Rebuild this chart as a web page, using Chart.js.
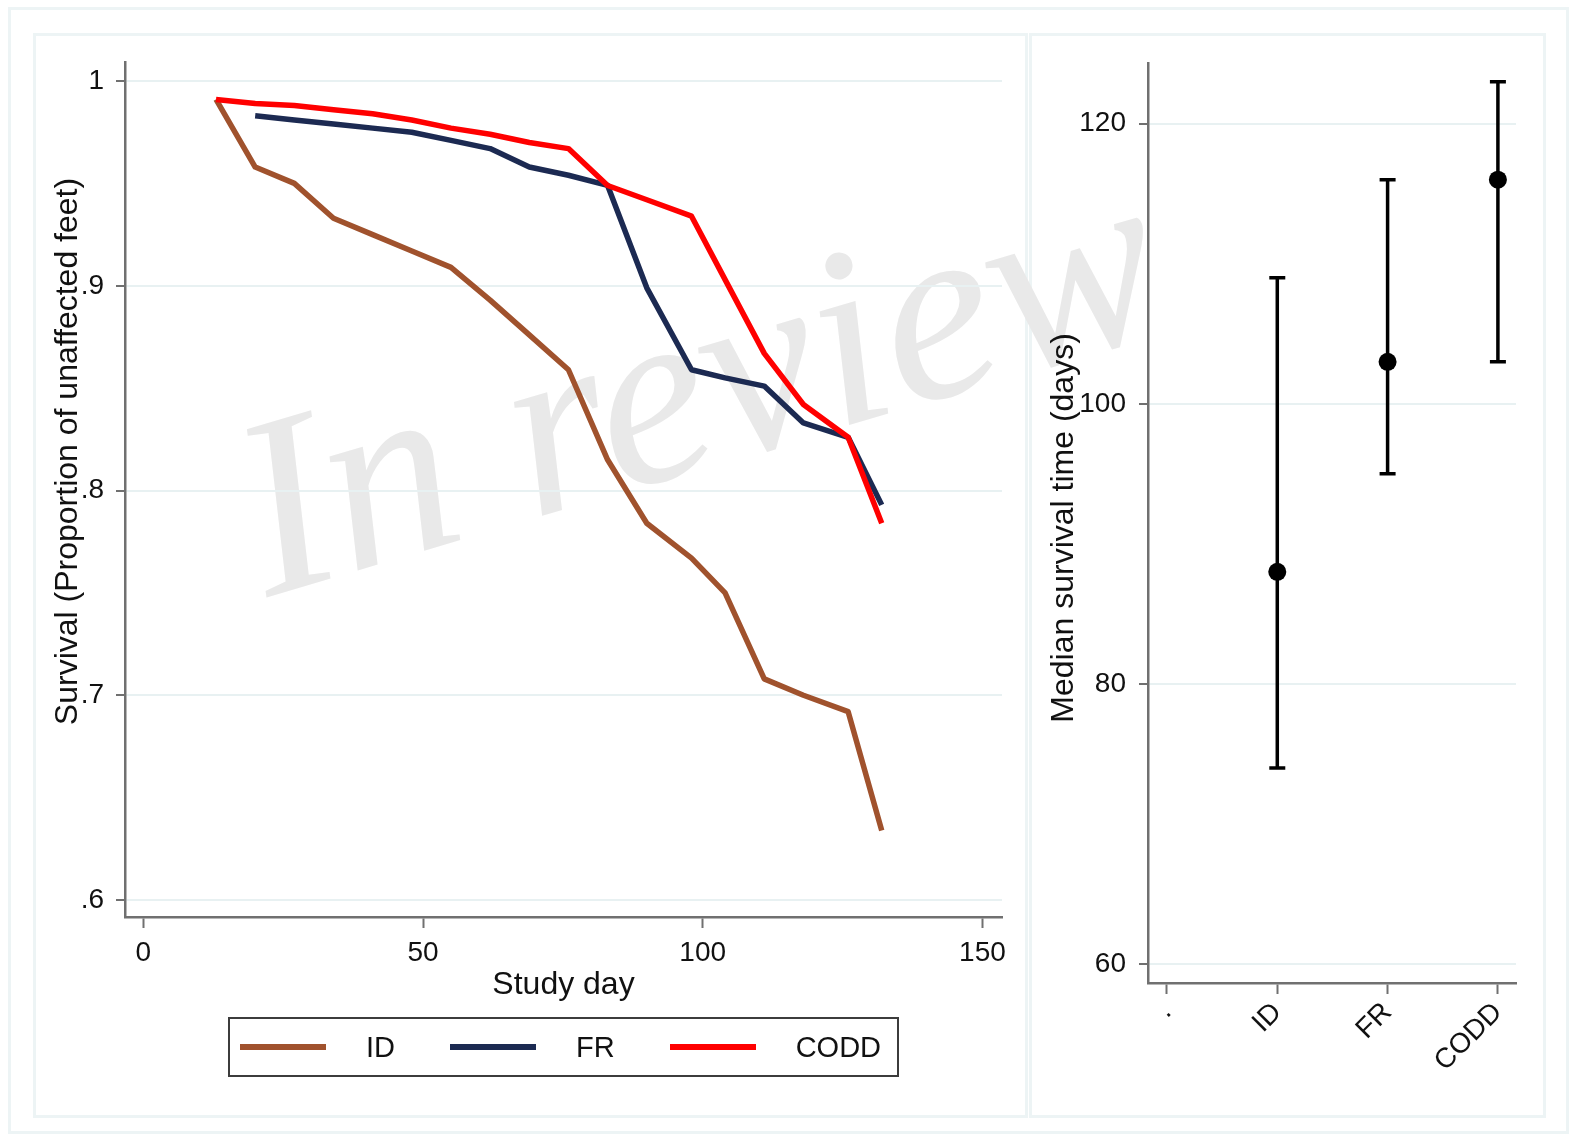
<!DOCTYPE html>
<html>
<head>
<meta charset="utf-8">
<title>Survival and median survival time</title>
<script src="https://cdn.jsdelivr.net/npm/chart.js@4.4.0/dist/chart.umd.min.js"></script>
<style>
  body { margin: 0; background: #fff; font-family: "Liberation Sans", Arial, sans-serif; }
  #page { position: relative; width: 1574px; height: 1137px; overflow: hidden; background: #fff; }
  .frame { position: absolute; box-sizing: border-box; border: 3px solid #edf4f5; }
  #mark {
    position: absolute; left: 207px; top: 393px;
    font: italic 255px "Liberation Serif", "Times New Roman", serif;
    line-height: 1; color: #e9e9e9; white-space: nowrap;
    transform-origin: 0 0; transform: rotate(-16.5deg);
  }
  canvas { position: absolute; }
  #legend {
    position: absolute; left: 228px; top: 1017px; width: 671px; height: 60px;
    box-sizing: border-box; border: 2px solid #3c3c3c;
    display: flex; align-items: center; padding-left: 10px;
    font-size: 29px; color: #111;
  }
  #legend .item { display: flex; align-items: center; margin-right: 55px; }
  #legend .swatch { width: 86px; height: 6px; margin-right: 40px; }
</style>
</head>
<body>
<div id="page">
  <div class="frame" style="left:8px;top:7px;width:1561px;height:1127px"></div>
  <div class="frame" style="left:33px;top:33px;width:995px;height:1085px"></div>
  <div class="frame" style="left:1029px;top:33px;width:517px;height:1085px"></div>
  <div id="mark">In review</div>
  <canvas id="survChart" width="994" height="1084" style="left:33px;top:33px"></canvas>
  <canvas id="medChart" width="515" height="1084" style="left:1030px;top:33px"></canvas>
  <div id="legend"></div>
</div>
<script>
// survival curves, one pair of arrays per group (study day / proportion unaffected)
const dayID = [13, 20, 27, 34, 41, 48, 55, 62, 69, 76, 83, 90, 98, 104, 111, 118, 126, 132];
const survID = [0.991, 0.958, 0.950, 0.933, 0.925, 0.917, 0.909, 0.893, 0.876, 0.859, 0.815, 0.784, 0.767, 0.750, 0.708, 0.700, 0.692, 0.634];

const dayFR = [20, 27, 34, 41, 48, 55, 62, 69, 76, 83, 90, 98, 104, 111, 118, 126, 132];
const survFR = [0.983, 0.981, 0.979, 0.977, 0.975, 0.971, 0.967, 0.958, 0.954, 0.949, 0.899, 0.859, 0.855, 0.851, 0.833, 0.826, 0.793];

const dayCODD = [13, 20, 27, 34, 41, 48, 55, 62, 69, 76, 83, 90, 98, 104, 111, 118, 126, 132];
const survCODD = [0.991, 0.989, 0.988, 0.986, 0.984, 0.981, 0.977, 0.974, 0.970, 0.967, 0.949, 0.942, 0.934, 0.903, 0.867, 0.842, 0.826, 0.784];

const seriesNames = ['ID', 'FR', 'CODD'];
const seriesColors = ['#a0522d', '#1c2a52', '#ff0000'];

const dayTicks = [0, 50, 100, 150];
const survTicks = [0.6, 0.7, 0.8, 0.9, 1];
const survTickLabels = ['.6', '.7', '.8', '.9', '1'];

// median survival time with its interval
const groupTicks = ['.', 'ID', 'FR', 'CODD'];
const medianDays = [88, 103, 116];
const lowerCI = [74, 95, 103];
const upperCI = [109, 116, 123];
const medTicks = [60, 80, 100, 120];

const textColor = '#111';
const axisColor = '#707070';
const gridColor = '#e8f1f2';
const tickFont = { family: '"Liberation Sans", Arial, sans-serif', size: 28 };
const titleFont = { family: '"Liberation Sans", Arial, sans-serif', size: 32 };

// vertical axis title, drawn by hand so it can sit off-centre like the original
const sideTitle = {
    id: 'sideTitle',
    afterDraw(chart, args, opts) {
        const { ctx, chartArea } = chart;
        ctx.save();
        ctx.translate(chartArea.left + opts.dx, (chartArea.top + chartArea.bottom) / 2 + opts.dy);
        ctx.rotate(-Math.PI / 2);
        ctx.font = titleFont.size + 'px ' + titleFont.family;
        ctx.fillStyle = textColor;
        ctx.textAlign = 'center';
        ctx.textBaseline = 'middle';
        ctx.fillText(opts.text, 0, 0);
        ctx.restore();
    }
};

document.addEventListener('DOMContentLoaded', function () {
    drawLegend();
    new Chart(document.getElementById('survChart'), configSurvival());
    new Chart(document.getElementById('medChart'), configMedians());
});

function drawLegend() {
    const box = document.getElementById('legend');
    seriesNames.forEach((name, i) => {
        const item = document.createElement('div');
        item.className = 'item';
        item.innerHTML = '<span class="swatch" style="background:' + seriesColors[i] + '"></span><span>' + name + '</span>';
        box.appendChild(item);
    });
}

function survDatasets() {
    const days = [dayID, dayFR, dayCODD];
    const surv = [survID, survFR, survCODD];
    return seriesNames.map((name, i) => ({
        label: name,
        data: days[i].map((d, j) => ({ x: d, y: surv[i][j] })),
        borderColor: seriesColors[i],
        borderWidth: 5.5,
        pointRadius: 0,
        tension: 0,
        borderJoinStyle: 'round',
        fill: false,
        order: seriesNames.length - i   // red on top
    }));
}

function configSurvival() {
    return {
        type: 'line',
        data: { datasets: survDatasets() },
        plugins: [sideTitle],
        options: {
            responsive: false,
            animation: false,
            devicePixelRatio: 1,
            layout: { padding: { left: 0, top: 29, right: 25, bottom: 109 } },
            plugins: {
                legend: { display: false },
                tooltip: { enabled: false },
                sideTitle: { text: 'Survival (Proportion of unaffected feet)', dx: -57, dy: -38 }
            },
            scales: {
                x: {
                    type: 'linear',
                    min: -3.27,
                    max: 153.5,
                    afterBuildTicks: s => { s.ticks = dayTicks.map(v => ({ value: v })); },
                    afterFit: s => { s.height = 91; },
                    grid: { drawOnChartArea: false, tickLength: 11, tickColor: axisColor, tickWidth: 2 },
                    border: { color: axisColor, width: 2.5 },
                    ticks: { font: tickFont, color: textColor, padding: 8, maxRotation: 0 },
                    title: { display: true, text: 'Study day', font: titleFont, color: textColor, padding: { top: 4, bottom: 4 } }
                },
                y: {
                    min: 0.5917,
                    max: 1.0093,
                    afterBuildTicks: s => { s.ticks = survTicks.map(v => ({ value: v })); },
                    afterFit: s => { s.width = 92; },
                    grid: { color: gridColor, lineWidth: 2, tickLength: 9, tickColor: axisColor, tickWidth: 2 },
                    border: { color: axisColor, width: 2.5 },
                    ticks: { font: tickFont, color: textColor, padding: 12, callback: (v, i) => survTickLabels[i] }
                }
            }
        }
    };
}

function medDatasets() {
    // one vertical segment per group, capped with short horizontal lines
    const sets = medianDays.map((m, i) => ({
        type: 'line',
        label: groupTicks[i + 1],
        data: [{ x: i + 1, y: lowerCI[i] }, { x: i + 1, y: upperCI[i] }],
        borderColor: '#000',
        borderWidth: 3.5,
        pointStyle: 'line',
        pointRadius: 8,
        pointBorderWidth: 3.5,
        pointBorderColor: '#000',
        order: 1
    }));
    sets.push({
        type: 'scatter',
        label: 'Median',
        data: medianDays.map((m, i) => ({ x: i + 1, y: m })),
        pointStyle: 'circle',
        pointRadius: 9,
        backgroundColor: '#000',
        borderColor: '#000',
        borderWidth: 0,
        order: 0
    });
    return sets;
}

function configMedians() {
    return {
        type: 'line',
        data: { datasets: medDatasets() },
        plugins: [sideTitle],
        options: {
            responsive: false,
            animation: false,
            devicePixelRatio: 1,
            layout: { padding: { left: 0, top: 29, right: 29, bottom: 34 } },
            plugins: {
                legend: { display: false },
                tooltip: { enabled: false },
                sideTitle: { text: 'Median survival time (days)', dx: -84, dy: 5 }
            },
            scales: {
                x: {
                    type: 'linear',
                    min: -0.172,
                    max: 3.164,
                    afterBuildTicks: s => { s.ticks = groupTicks.map((t, i) => ({ value: i })); },
                    afterFit: s => { s.height = 100; },
                    grid: { drawOnChartArea: false, tickLength: 11, tickColor: axisColor, tickWidth: 2 },
                    border: { color: axisColor, width: 2.5 },
                    ticks: {
                        font: tickFont, color: textColor, padding: 2,
                        minRotation: 45, maxRotation: 45, autoSkip: false,
                        callback: (v, i) => groupTicks[i]
                    }
                },
                y: {
                    min: 58.64,
                    max: 124.35,
                    afterBuildTicks: s => { s.ticks = medTicks.map(v => ({ value: v })); },
                    afterFit: s => { s.width = 118; },
                    grid: { color: gridColor, lineWidth: 2, tickLength: 9, tickColor: axisColor, tickWidth: 2 },
                    border: { color: axisColor, width: 2.5 },
                    ticks: { font: tickFont, color: textColor, padding: 13 }
                }
            }
        }
    };
}
</script>
</body>
</html>
